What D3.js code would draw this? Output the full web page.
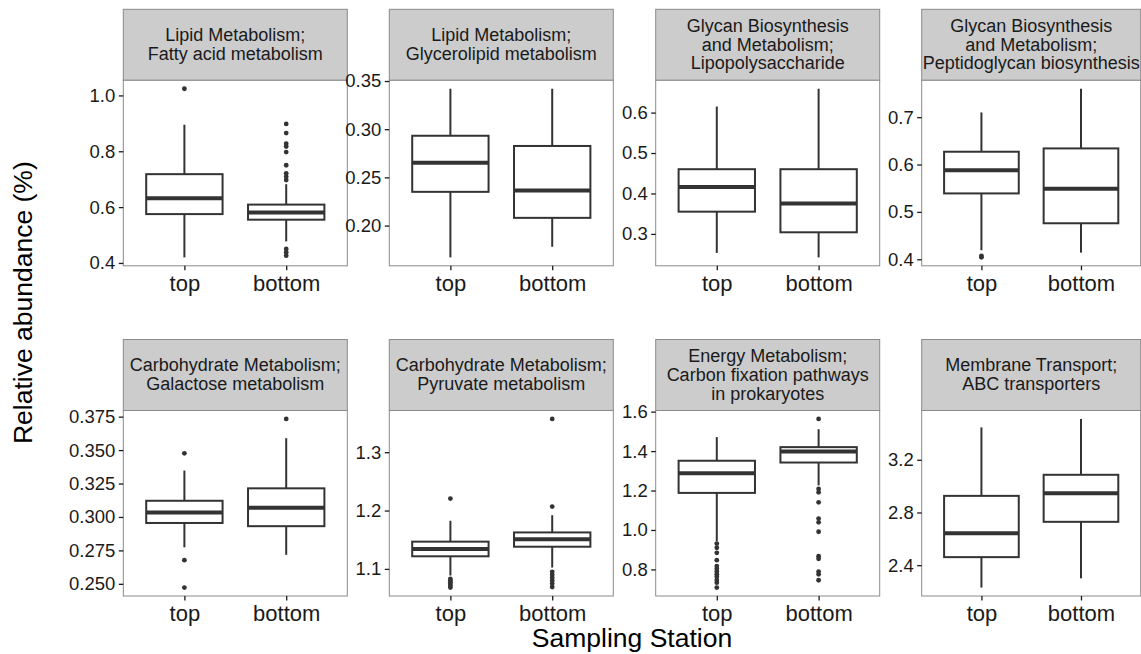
<!DOCTYPE html>
<html>
<head>
<meta charset="utf-8">
<script src="https://cdn.jsdelivr.net/npm/d3@7"></script>
<style>
  html, body { margin: 0; padding: 0; background: #ffffff; }
  svg { display: block; font-family: "Liberation Sans", Arial, Helvetica, sans-serif; }
</style>
</head>
<body>
<svg id="chart" width="1141" height="654"></svg>
<script>
// Sampling stations (x categories)
const categories = ["top", "bottom"];

// Facet titles, one line per entry
const pathways = [
  ["Lipid Metabolism;", "Fatty acid metabolism"],
  ["Lipid Metabolism;", "Glycerolipid metabolism"],
  ["Glycan Biosynthesis", "and Metabolism;", "Lipopolysaccharide"],
  ["Glycan Biosynthesis", "and Metabolism;", "Peptidoglycan biosynthesis"],
  ["Carbohydrate Metabolism;", "Galactose metabolism"],
  ["Carbohydrate Metabolism;", "Pyruvate metabolism"],
  ["Energy Metabolism;", "Carbon fixation pathways", "in prokaryotes"],
  ["Membrane Transport;", "ABC transporters"]
];

// Box summaries per facet: [top, bottom]
const lowerWhisker = [[0.420, 0.477], [0.167, 0.178], [0.253, 0.242], [0.419, 0.414],
                      [0.2773, 0.2717], [1.0886, 1.1023], [0.943, 1.226], [2.230, 2.300]];
const lowerQuartile = [[0.575, 0.555], [0.235, 0.208], [0.355, 0.304], [0.539, 0.476],
                       [0.2955, 0.2931], [1.1216, 1.1380], [1.188, 1.342], [2.461, 2.729]];
const medians = [[0.632, 0.581], [0.2653, 0.2365], [0.416, 0.375], [0.588, 0.549],
                 [0.3034, 0.3069], [1.1341, 1.1506], [1.287, 1.398], [2.642, 2.946]];
const upperQuartile = [[0.718, 0.609], [0.2932, 0.2826], [0.460, 0.460], [0.627, 0.634],
                       [0.3121, 0.3214], [1.1467, 1.1625], [1.351, 1.420], [2.926, 3.086]];
const upperWhisker = [[0.895, 0.682], [0.342, 0.342], [0.615, 0.659], [0.710, 0.760],
                      [0.3347, 0.3589], [1.1825, 1.1920], [1.471, 1.511], [3.446, 3.510]];

// Outlying samples per facet: [top, bottom]
const outliers = [
  [[1.024], [0.898, 0.865, 0.827, 0.817, 0.797, 0.750, 0.721, 0.709, 0.697, 0.450, 0.438, 0.426]],
  [[], []],
  [[], []],
  [[0.404, 0.407], []],
  [[0.3476, 0.2677, 0.2472], [0.3733]],
  [[1.2205, 1.083, 1.080, 1.077, 1.074, 1.071, 1.068], [1.357, 1.2068, 1.095, 1.090, 1.085, 1.080, 1.075, 1.069]],
  [[0.931, 0.910, 0.884, 0.847, 0.817, 0.804, 0.789, 0.775, 0.763, 0.746, 0.733, 0.708],
   [1.563, 1.208, 1.191, 1.140, 1.058, 1.039, 0.991, 0.867, 0.854, 0.789, 0.775, 0.745]],
  [[], []]
];

// Y tick labels per facet
const yTickLabels = [
  ["0.4", "0.6", "0.8", "1.0"],
  ["0.20", "0.25", "0.30", "0.35"],
  ["0.3", "0.4", "0.5", "0.6"],
  ["0.4", "0.5", "0.6", "0.7"],
  ["0.250", "0.275", "0.300", "0.325", "0.350", "0.375"],
  ["1.1", "1.2", "1.3"],
  ["0.8", "1.0", "1.2", "1.4", "1.6"],
  ["2.4", "2.8", "3.2"]
];

const xTitle = "Sampling Station";
const yTitle = "Relative abundance (%)";

// ---- layout ----
const svg = d3.select("#chart");
const colX = [123.3, 389.3, 655.7, 921.7];
const colW = [224, 224, 224, 219];
const rowStripTop = [9.3, 339.5];
const stripH = 71;
const plotH = 185.5;

const ink = "#333333";
const borderCol = "#8a8a8a";
const textCol = "#1a1a1a";

pathways.forEach((title, i) => {
  const col = i % 4, row = Math.floor(i / 4);
  const x0 = colX[col], w = colW[col];
  const sTop = rowStripTop[row];
  const pTop = sTop + stripH;
  const g = svg.append("g");

  // strip
  g.append("rect")
    .attr("x", x0).attr("y", sTop).attr("width", w).attr("height", stripH)
    .attr("fill", "#cccccc").attr("stroke", borderCol).attr("stroke-width", 1);
  const lineH = 18.7;
  const cy = sTop + stripH / 2 - 0.5;
  title.forEach((t, k) => {
    g.append("text")
      .attr("x", x0 + w / 2)
      .attr("y", cy + (k - (title.length - 1) / 2) * lineH)
      .attr("dy", "0.35em")
      .attr("text-anchor", "middle")
      .attr("font-size", 18)
      .attr("fill", textCol)
      .text(t);
  });

  // scales
  const allVals = [
    ...lowerWhisker[i], ...upperWhisker[i],
    ...outliers[i][0], ...outliers[i][1]
  ];
  const lo = d3.min(allVals), hi = d3.max(allVals);
  const pad = (hi - lo) * 0.05;
  const y = d3.scaleLinear().domain([lo - pad, hi + pad]).range([pTop + plotH, pTop]);
  const x = d3.scalePoint().domain(categories).range([x0, x0 + w]).padding(0.6);
  const boxW = x.step() * 0.75;

  // panel background + border
  g.append("rect")
    .attr("x", x0).attr("y", pTop).attr("width", w).attr("height", plotH)
    .attr("fill", "#ffffff").attr("stroke", borderCol).attr("stroke-width", 1);

  // y axis
  const yAxis = d3.axisLeft(y)
    .tickValues(yTickLabels[i].map(Number))
    .tickFormat((d, k) => yTickLabels[i][k])
    .tickSize(4.5).tickPadding(3.5);
  const ya = g.append("g").attr("transform", `translate(${x0},0)`).call(yAxis);
  ya.select(".domain").remove();
  ya.selectAll("line").attr("stroke", "#1a1a1a").attr("stroke-width", 1.3);
  ya.selectAll("text").attr("font-size", 18.5).attr("fill", textCol)
    .attr("font-family", "Liberation Sans, Arial, sans-serif");

  // x axis
  const xAxis = d3.axisBottom(x).tickSize(4.5).tickPadding(5);
  const xa = g.append("g").attr("transform", `translate(0,${pTop + plotH})`).call(xAxis);
  xa.select(".domain").remove();
  xa.selectAll("line").attr("stroke", "#1a1a1a").attr("stroke-width", 1.3);
  xa.selectAll("text").attr("font-size", 22).attr("fill", textCol)
    .attr("font-family", "Liberation Sans, Arial, sans-serif");

  // boxes
  categories.forEach((c, j) => {
    const cx = x(c);
    const bg = g.append("g");
    bg.append("line")
      .attr("x1", cx).attr("x2", cx)
      .attr("y1", y(upperQuartile[i][j])).attr("y2", y(upperWhisker[i][j]))
      .attr("stroke", ink).attr("stroke-width", 2);
    bg.append("line")
      .attr("x1", cx).attr("x2", cx)
      .attr("y1", y(lowerQuartile[i][j])).attr("y2", y(lowerWhisker[i][j]))
      .attr("stroke", ink).attr("stroke-width", 2);
    bg.append("rect")
      .attr("x", cx - boxW / 2).attr("width", boxW)
      .attr("y", y(upperQuartile[i][j]))
      .attr("height", y(lowerQuartile[i][j]) - y(upperQuartile[i][j]))
      .attr("fill", "#ffffff").attr("stroke", ink).attr("stroke-width", 2);
    bg.append("line")
      .attr("x1", cx - boxW / 2).attr("x2", cx + boxW / 2)
      .attr("y1", y(medians[i][j])).attr("y2", y(medians[i][j]))
      .attr("stroke", ink).attr("stroke-width", 4);
    bg.selectAll("circle.out").data(outliers[i][j]).enter()
      .append("circle").attr("class", "out")
      .attr("cx", cx).attr("cy", d => y(d)).attr("r", 2.4)
      .attr("fill", ink);
  });
});

// axis titles
svg.append("text")
  .attr("x", (colX[0] + colX[3] + colW[3]) / 2)
  .attr("y", 647)
  .attr("text-anchor", "middle")
  .attr("font-size", 26.5)
  .attr("fill", "#000")
  .text(xTitle);

svg.append("text")
  .attr("transform", `translate(32,${(rowStripTop[0] + rowStripTop[1] + stripH + plotH) / 2}) rotate(-90)`)
  .attr("text-anchor", "middle")
  .attr("font-size", 26.5)
  .attr("fill", "#000")
  .text(yTitle);
</script>
</body>
</html>
